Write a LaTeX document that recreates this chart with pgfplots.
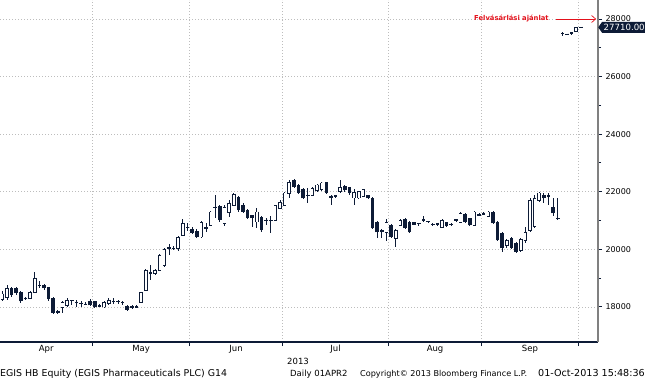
\documentclass[border=0pt]{standalone}
\usepackage{pgfplots}
\pgfplotsset{compat=1.18}
\usepackage{pgfplotstable}
\usepackage{fontspec}
\setmainfont{DejaVu Sans}
\usetikzlibrary{shapes.symbols,arrows.meta}
\definecolor{cnavy}{HTML}{0D1B36}
\definecolor{cgrid}{HTML}{BDBDBD}
\definecolor{cred}{HTML}{E3111B}
\definecolor{caxis}{HTML}{808080}

% trading day index, open, high, low, close
\pgfplotstableread{
d o h l c
0 18250 18550 18200 18450
1 18330 18750 18250 18640
2 18640 18700 18350 18400
3 18640 18700 18420 18470
4 18520 18560 18150 18190
5 18280 18350 18230 18300
6 18300 18560 18270 18500
7 18500 19200 18480 18990
8 18760 18900 18650 18740
9 18750 18800 18600 18640
10 18680 18700 18220 18260
11 18300 18330 17750 17780
12 17800 17880 17760 17850
13 17990 18200 17800 18160
14 18050 18300 18000 18220
15 18230 18240 18050 18220
16 18150 18250 18000 18160
17 18100 18200 17980 18110
18 18100 18170 18050 18100
19 18220 18260 18020 18050
20 18200 18220 17960 17990
21 18000 18100 17980 18050
22 18000 18200 17950 18160
23 18120 18300 18080 18230
24 18180 18300 18100 18190
25 18200 18250 18100 18190
26 18160 18210 18080 18150
27 18020 18060 17880 17900
28 17960 18050 17930 18010
29 17990 18050 17960 18000
30 18160 18530 18140 18500
31 18570 19300 18550 19270
32 19200 19440 18920 19130
33 19170 19300 19100 19250
34 19270 19850 19250 19790
35 19450 20050 19400 20000
36 20030 20200 19800 20050
37 20050 20100 19980 20040
38 20030 20450 19950 20420
39 20490 21040 20450 20900
40 20770 20900 20650 20760
41 20700 20760 20550 20580
42 20650 20700 20380 20420
43 20430 21000 20400 20940
44 20720 20900 20600 20760
45 20830 21320 20800 21290
46 21460 21880 21080 21470
47 21500 21530 20950 21010
48 20900 21550 20800 21460
49 21290 21710 21130 21600
50 21530 21950 21500 21910
51 21810 21850 21300 21360
52 21550 21600 21250 21300
53 21350 21400 21050 21080
54 21180 21200 20770 21070
55 20950 21420 20750 21290
56 21110 21150 20600 20660
57 21000 21100 20850 21020
58 21000 21150 20550 21000
59 21000 21550 20980 21520
60 21430 21700 21400 21630
61 21530 22000 21500 21950
62 21950 22400 21780 22330
63 22400 22450 22120 22150
64 22230 22260 21920 21950
65 22090 22120 21740 21770
66 21870 22120 21600 21880
67 21880 22150 21850 22120
68 22050 22260 22000 22230
69 22070 22330 22040 22300
70 22330 22350 21920 21950
71 21800 21900 21550 21850
72 21880 21900 21780 21810
73 22000 22400 21950 22150
74 22200 22250 22000 22050
75 22150 22180 21900 21950
76 21780 22100 21530 21980
77 21780 22020 21750 22000
78 21830 22100 21800 22070
79 21880 21900 21740 21770
80 21770 21800 20700 20730
81 20940 21000 20380 20590
82 20660 20700 20380 20590
83 20590 21040 20300 20940
84 20830 20870 20380 20420
85 20380 20700 20070 20660
86 20830 21050 20800 21010
87 21040 21080 20700 20730
88 20940 20980 20560 20590
89 20870 20950 20840 20920
90 20900 20920 20800 20900
91 20990 21150 20950 21030
92 20960 21000 20900 20960
93 20870 20930 20820 20870
94 20850 20930 20820 20900
95 20770 21050 20740 21010
96 20940 20960 20780 20800
97 20870 20920 20800 20870
98 20990 21060 20960 21030
99 20940 21300 20900 21250
100 21220 21260 20900 20940
101 21080 21100 20800 20830
102 20830 21320 20800 21290
103 21180 21250 21150 21220
104 21220 21290 21200 21260
105 21150 21320 21120 21290
106 21290 21320 20880 20900
107 20940 20980 20280 20310
108 20560 20600 19900 20030
109 20140 20350 20030 20310
110 20380 20420 20000 20030
111 20210 20250 19870 19900
112 19970 20380 19900 20350
113 20310 20760 20210 20590
114 20660 21770 20590 21700
115 20800 21900 20750 21770
116 21700 21980 21650 21950
117 21880 21950 21600 21770
118 21880 21950 21530 21800
119 21460 21770 21150 21250
120 21080 21770 21010 21070
121 27520 27560 27420 27510
122 27480 27490 27470 27480
123 27480 27540 27460 27530
124 27560 27730 27550 27700
125 27690 27720 27680 27710
}\candles

\begin{document}
\begin{tikzpicture}
\useasboundingbox (0,0) rectangle (645pt,380pt);
\begin{axis}[
  at={(0pt,38pt)}, anchor=south west,
  scale only axis, width=598pt, height=342pt,
  xmin=-0.5, xmax=128.7, ymin=16780, ymax=28660,
  clip=false,
  axis x line*=bottom, axis y line*=right,
  x axis line style={cnavy, line width=1.2pt},
  y axis line style={caxis, line width=1.8pt},
  xtick={19.5,40.5,60.5,83.5,103.5,124.5}, xticklabels={},
  extra x ticks={9.5,30,50.5,72,93.5,114},
  extra x tick labels={Apr,May,Jun,Jul,Aug,Sep},
  extra x tick style={grid=none, major tick length=0pt},
  ytick={18000,20000,...,28000},
  scaled y ticks=false,
  minor y tick num=1,
  xmajorgrids, ymajorgrids,
  grid style={cgrid, line width=0.6pt, dash pattern=on 0.8pt off 2.2pt},
  tick align=outside,
  major tick length=4pt, minor tick length=3pt,
  every tick/.style={cnavy, line width=0.9pt},
  yticklabel style={font=\fontsize{8}{9}\selectfont, text=black},
  xticklabel style={font=\fontsize{8.5}{10}\selectfont, text=black},
  /pgf/number format/.cd, 1000 sep={}, assume math mode=true,
]
% wicks
\addplot[draw=none, mark=none,
  error bars/.cd, y dir=both, y explicit, error mark=none,
  error bar style={draw=cnavy, line width=0.8pt}]
  table[x=d, y=c, y error plus expr=\thisrow{h}-\thisrow{c},
        y error minus expr=\thisrow{c}-\thisrow{l}] {\candles};
% down bodies (filled)
\addplot[draw=none, mark=none,
  x filter/.expression={\thisrow{c}<\thisrow{o} ? x : nan},
  error bars/.cd, y dir=both, y explicit, error mark=none,
  error bar style={draw=cnavy, line width=3.6pt}]
  table[x=d, y=c, y error plus expr=\thisrow{o}-\thisrow{c},
        y error minus expr=0] {\candles};
% up bodies outline
\addplot[draw=none, mark=none,
  x filter/.expression={\thisrow{c}<\thisrow{o} ? nan : x},
  error bars/.cd, y dir=both, y explicit, error mark=none,
  error bar style={draw=cnavy, line width=3.6pt, shorten <=-0.4pt, shorten >=-0.4pt}]
  table[x=d, y=c, y error plus expr=0,
        y error minus expr=\thisrow{c}-\thisrow{o}] {\candles};
% up bodies inside (hollow)
\addplot[draw=none, mark=none,
  x filter/.expression={\thisrow{c}-\thisrow{o}>60 ? x : nan},
  error bars/.cd, y dir=both, y explicit, error mark=none,
  error bar style={draw=white, line width=2.1pt, shorten <=0.3pt, shorten >=0.3pt}]
  table[x=d, y=c, y error plus expr=0,
        y error minus expr=\thisrow{c}-\thisrow{o}] {\candles};
\coordinate (lastpt) at (axis cs:128.7,27710);
\node[anchor=east, text=cred, font=\bfseries\fontsize{6.8}{8}\selectfont, inner sep=0pt]
  at (axis cs:118.1,28000) {Felvásárlási ajánlat};
\draw[cred, line width=0.7pt, -{Straight Barb[length=4pt,width=7pt]}]
  (axis cs:119.6,28000) -- (axis cs:128.3,28000);
\end{axis}
\node[signal, signal to=west, signal pointer angle=110, fill=cnavy, text=white,
  font=\fontsize{8.6}{10}\selectfont, inner xsep=1.6pt, inner ysep=2.2pt, anchor=west] at (lastpt) {27710.00};
\node[anchor=base, font=\fontsize{8.5}{10}\selectfont] at (298pt,16pt) {2013};
\begin{scope}[every node/.style={inner sep=0pt}]
\node[anchor=base west, font=\fontsize{9.4}{11}\selectfont] at (0pt,3pt) {EGIS HB Equity (EGIS Pharmaceuticals PLC) G14};
\node[anchor=base west, font=\fontsize{8.5}{10}\selectfont] at (290pt,3pt) {Daily 01APR2};
\node[anchor=base west, font=\fontsize{8.1}{10}\selectfont] at (360pt,3pt) {Copyright© 2013 Bloomberg Finance L.P.};
\node[anchor=base east, font=\fontsize{9.6}{11}\selectfont] at (645pt,3pt) {01-Oct-2013 15:48:36};
\end{scope}
\end{tikzpicture}
\end{document}
